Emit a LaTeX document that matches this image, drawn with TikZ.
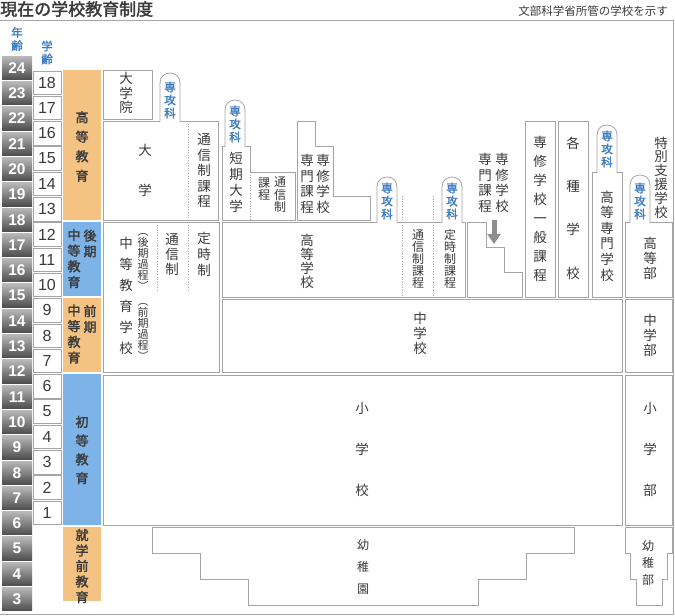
\documentclass[tikz,border=0pt]{standalone}
\usepackage{fontspec}
\newfontfamily\jp{Noto Sans CJK JP}
\newfontfamily\jpb{Noto Sans CJK JP}[FakeBold=2]
\newfontfamily\num{Liberation Sans}
\usetikzlibrary{arrows.meta}
\definecolor{lin}{HTML}{A5A5A5}
\definecolor{txt}{HTML}{3A3A3A}
\definecolor{orng}{HTML}{F4C383}
\definecolor{blu}{HTML}{7DB3E6}
\definecolor{tabblu}{HTML}{3F7DC2}
\definecolor{agetop}{HTML}{B8B8B8}
\definecolor{agebot}{HTML}{4D4D4D}
\definecolor{arrgray}{HTML}{8E8E8E}

\begin{document}
\begin{tikzpicture}
[every node/.style={inner sep=0pt, text=txt},
 box/.style={draw=lin, line width=0.8pt, fill=white},
 dots/.style={draw=lin, line width=0.8pt, dash pattern=on 1pt off 1.6pt},
 vt/.style={align=center, font=\jp\fontsize{13.5}{#1}\selectfont},
 vts/.style={align=center, font=\jp\fontsize{12}{#1}\selectfont},
 cat/.style={align=center, font=\jpb\fontsize{13}{#1}\selectfont},
 tabtext/.style={align=center, text=tabblu, font=\jpb\fontsize{11.5}{13}\selectfont},
 agebox/.style={minimum width=30pt, minimum height=23.3pt, top color=agetop, bottom color=agebot, text=white, font=\num\bfseries\fontsize{15.5}{15.5}\selectfont},
 gradebox/.style={draw=lin, line width=0.8pt, fill=white, minimum width=28pt, minimum height=23.5pt, font=\num\fontsize{16}{16}\selectfont}]
\useasboundingbox (0pt,0pt) rectangle (675pt,-616pt);
\node (title) [anchor=west, font=\jpb\fontsize{17}{17}\selectfont] at (0pt,-9pt) {現在の学校教育制度};
\node (note) [anchor=east, font=\jp\fontsize{11.5}{11.5}\selectfont] at (668pt,-11pt) {文部科学省所管の学校を示す};
\draw [lin, line width=0.8pt] (0pt,-20pt) -- (673.5pt,-20pt) -- (673.5pt,-614pt) -- (0pt,-614pt);
\node (nenrei) [tabtext] at (17pt,-39pt) {年\\齢};
\node (gakurei) [tabtext] at (47pt,-52.5pt) {学\\齢};
\foreach \a [evaluate=\a as \ya using {-(67.9+(24-\a)*25.3)}] in {24,23,...,3}
  \node (age\a) [agebox] at ({17pt},{\ya*1pt}) {\a};
\foreach \g [evaluate=\g as \yg using {-(82.65+(18-\g)*25.3)}] in {18,17,...,1}
  \node (grade\g) [gradebox] at ({47pt},{\yg*1pt}) {\g};
\fill [orng] (63pt,-70pt) rectangle (101pt,-220pt);
\fill [blu] (63pt,-222pt) rectangle (101pt,-296pt);
\fill [orng] (63pt,-298pt) rectangle (101pt,-372pt);
\fill [blu] (63pt,-374pt) rectangle (101pt,-525pt);
\fill [orng] (63pt,-527pt) rectangle (101pt,-601pt);
\node (koutou) [cat=19.5] at (82pt,-146.5pt) {高\\等\\教\\育};
\node (chutou1) [cat=15.7] at (74pt,-258.5pt) {中\\等\\教\\育};
\node (kouki1) [cat=15.7] at (90pt,-243.5pt) {後\\期};
\node (chutou2) [cat=15.7] at (74pt,-334pt) {中\\等\\教\\育};
\node (zenki1) [cat=15.7] at (90pt,-319pt) {前\\期};
\node (shotou) [cat=18.7] at (82pt,-450pt) {初\\等\\教\\育};
\node (shugaku) [cat=15.5] at (82pt,-566pt) {就\\学\\前\\教\\育};
\draw [box] (103pt,-70pt) rectangle (152pt,-119pt);
\draw [box] (103pt,-121pt) rectangle (218pt,-220pt);
\draw [dots] (188pt,-121pt) -- (188pt,-220pt);
\draw [box] (222pt,-220pt) -- (222pt,-146pt) -- (250pt,-146pt) -- (250pt,-172pt) -- (295pt,-172pt) -- (295pt,-220pt) -- cycle;
\draw [dots] (250pt,-172pt) -- (250pt,-220pt);
\draw [box] (297pt,-220pt) -- (297pt,-121pt) -- (315pt,-121pt) -- (315pt,-146pt) -- (333pt,-146pt) -- (333pt,-196.5pt) -- (370pt,-196.5pt) -- (370pt,-220pt) -- cycle;
\draw [box] (222pt,-222pt) rectangle (465pt,-297pt);
\draw [dots] (402pt,-196pt) -- (402pt,-297pt);
\draw [dots] (433pt,-196pt) -- (433pt,-297pt);
\draw [box] (467pt,-222pt) -- (486pt,-222pt) -- (486pt,-247pt) -- (504pt,-247pt) -- (504pt,-272pt) -- (522pt,-272pt) -- (522pt,-297pt) -- (467pt,-297pt) -- cycle;
\draw [box] (525pt,-121pt) rectangle (555pt,-297pt);
\draw [box] (558pt,-121pt) rectangle (588pt,-297pt);
\draw [box] (592pt,-172pt) rectangle (622pt,-297pt);
\draw [box] (625pt,-222pt) rectangle (672pt,-297pt);
\draw [box] (103pt,-222pt) rectangle (219pt,-372pt);
\draw [dots] (157pt,-222pt) -- (157pt,-292pt);
\draw [dots] (188pt,-222pt) -- (188pt,-292pt);
\draw [box] (222pt,-299pt) rectangle (622pt,-372pt);
\draw [box] (625pt,-299pt) rectangle (672pt,-372pt);
\draw [box] (103pt,-375pt) rectangle (622pt,-525pt);
\draw [box] (625pt,-375pt) rectangle (672pt,-525pt);
\draw [box] (152pt,-527pt) -- (574pt,-527pt) -- (574pt,-553pt) -- (526pt,-553pt) -- (526pt,-579pt) -- (478pt,-579pt) -- (478pt,-605pt) -- (248pt,-605pt) -- (248pt,-579pt) -- (200pt,-579pt) -- (200pt,-553pt) -- (152pt,-553pt) -- cycle;
\draw [box] (625pt,-527pt) -- (672pt,-527pt) -- (672pt,-553pt) -- (667pt,-553pt) -- (667pt,-579pt) -- (662pt,-579pt) -- (662pt,-605pt) -- (636pt,-605pt) -- (636pt,-579pt) -- (630.5pt,-579pt) -- (630.5pt,-553pt) -- (625pt,-553pt) -- cycle;
\foreach \xa/\yt/\yb/\ym [count=\i, evaluate=\xa as \xb using \xa+20, evaluate=\yt as \yc using \yt+10, evaluate=\yt as \yd using \yt-3.3, evaluate=\yb as \ye using \yb+1]
  in {160/73/121/100, 225/100/146/124, 377/177/222/201, 442/177/222/201, 597/125/172/149, 630/175/222/201} {
  \filldraw [box] ({\xa*1pt},{-\ye*1pt}) -- ({\xa*1pt},{-\yc*1pt}) .. controls ({\xa*1pt},{-\yd*1pt}) and ({\xb*1pt},{-\yd*1pt}) .. ({\xb*1pt},{-\yc*1pt}) -- ({\xb*1pt},{-\ye*1pt});
  \node (senkou\i) [tabtext] at ({(\xa+10)*1pt},{-\ym*1pt}) {専\\攻\\科};
}
\node (daigakuin) [vt=14.5] at (126pt,-93pt) {大\\学\\院};
\node (daigaku) [vt=40] at (145pt,-170pt) {大\\学};
\node (tsushin1) [vt=15.5] at (204pt,-171pt) {通\\信\\制\\課\\程};
\node (tandai) [vt=16] at (236pt,-182pt) {短\\期\\大\\学};
\node (tsushin2a) [vts=12.5] at (280pt,-195pt) {通\\信\\制};
\node (tsushin2b) [vts=12.5] at (264pt,-189pt) {課\\程};
\node (senmon1) [vt=15.7] at (307pt,-184pt) {専\\門\\課\\程};
\node (senshu1) [vt=15.7] at (323pt,-184pt) {専\\修\\学\\校};
\node (koukou) [vt=14] at (307pt,-261pt) {高\\等\\学\\校};
\node (tsushin3) [vts=12] at (418pt,-259pt) {通\\信\\制\\課\\程};
\node (teiji3) [vts=12] at (450pt,-259pt) {定\\時\\制\\課\\程};
\node (senmon2) [vt=15.5] at (485pt,-183pt) {専\\門\\課\\程};
\node (senshu2) [vt=15.5] at (502pt,-183pt) {専\\修\\学\\校};
\coordinate (arrtop) at (494pt,-220pt);
\coordinate (arrbot) at (494pt,-244pt);
\draw [line width=5pt, color=arrgray, -{Triangle[width=13pt,length=10pt]}] (arrtop) -- (arrbot);
\node (ippan) [vt=18.9] at (540pt,-209pt) {専\\修\\学\\校\\一\\般\\課\\程};
\node (kakushu) [vt=43.3] at (573pt,-208pt) {各\\種\\学\\校};
\node (kousen) [vt=15.6] at (607pt,-236pt) {高\\等\\専\\門\\学\\校};
\node (tokubetsu) [vt=13.8] at (661pt,-177.5pt) {特\\別\\支\\援\\学\\校};
\node (koutoubu) [vt=15] at (650pt,-258pt) {高\\等\\部};
\node (chutougakkou) [vt=21] at (126pt,-295.5pt) {中\\等\\教\\育\\学\\校};
\node (koukikatei) [align=center, font=\jp\fontsize{11}{11}\selectfont] at (143pt,-262pt) {︵\\後\\期\\過\\程\\︶};
\node (zenkikatei) [align=center, font=\jp\fontsize{11}{11}\selectfont] at (143pt,-332pt) {︵\\前\\期\\過\\程\\︶};
\node (tsushin4) [vt=15] at (172pt,-255pt) {通\\信\\制};
\node (teiji4) [vt=16] at (204pt,-254pt) {定\\時\\制};
\node (chugakkou) [vt=15] at (420pt,-333pt) {中\\学\\校};
\node (chugakubu) [vt=15] at (650pt,-335pt) {中\\学\\部};
\node (shougakkou) [vt=41] at (362pt,-449pt) {小\\学\\校};
\node (shougakubu) [vt=41] at (650pt,-449pt) {小\\学\\部};
\node (youchien) [vts=22] at (363pt,-567pt) {幼\\稚\\園};
\node (youchibu) [vts=17] at (648pt,-563pt) {幼\\稚\\部};
\end{tikzpicture}
\end{document}
